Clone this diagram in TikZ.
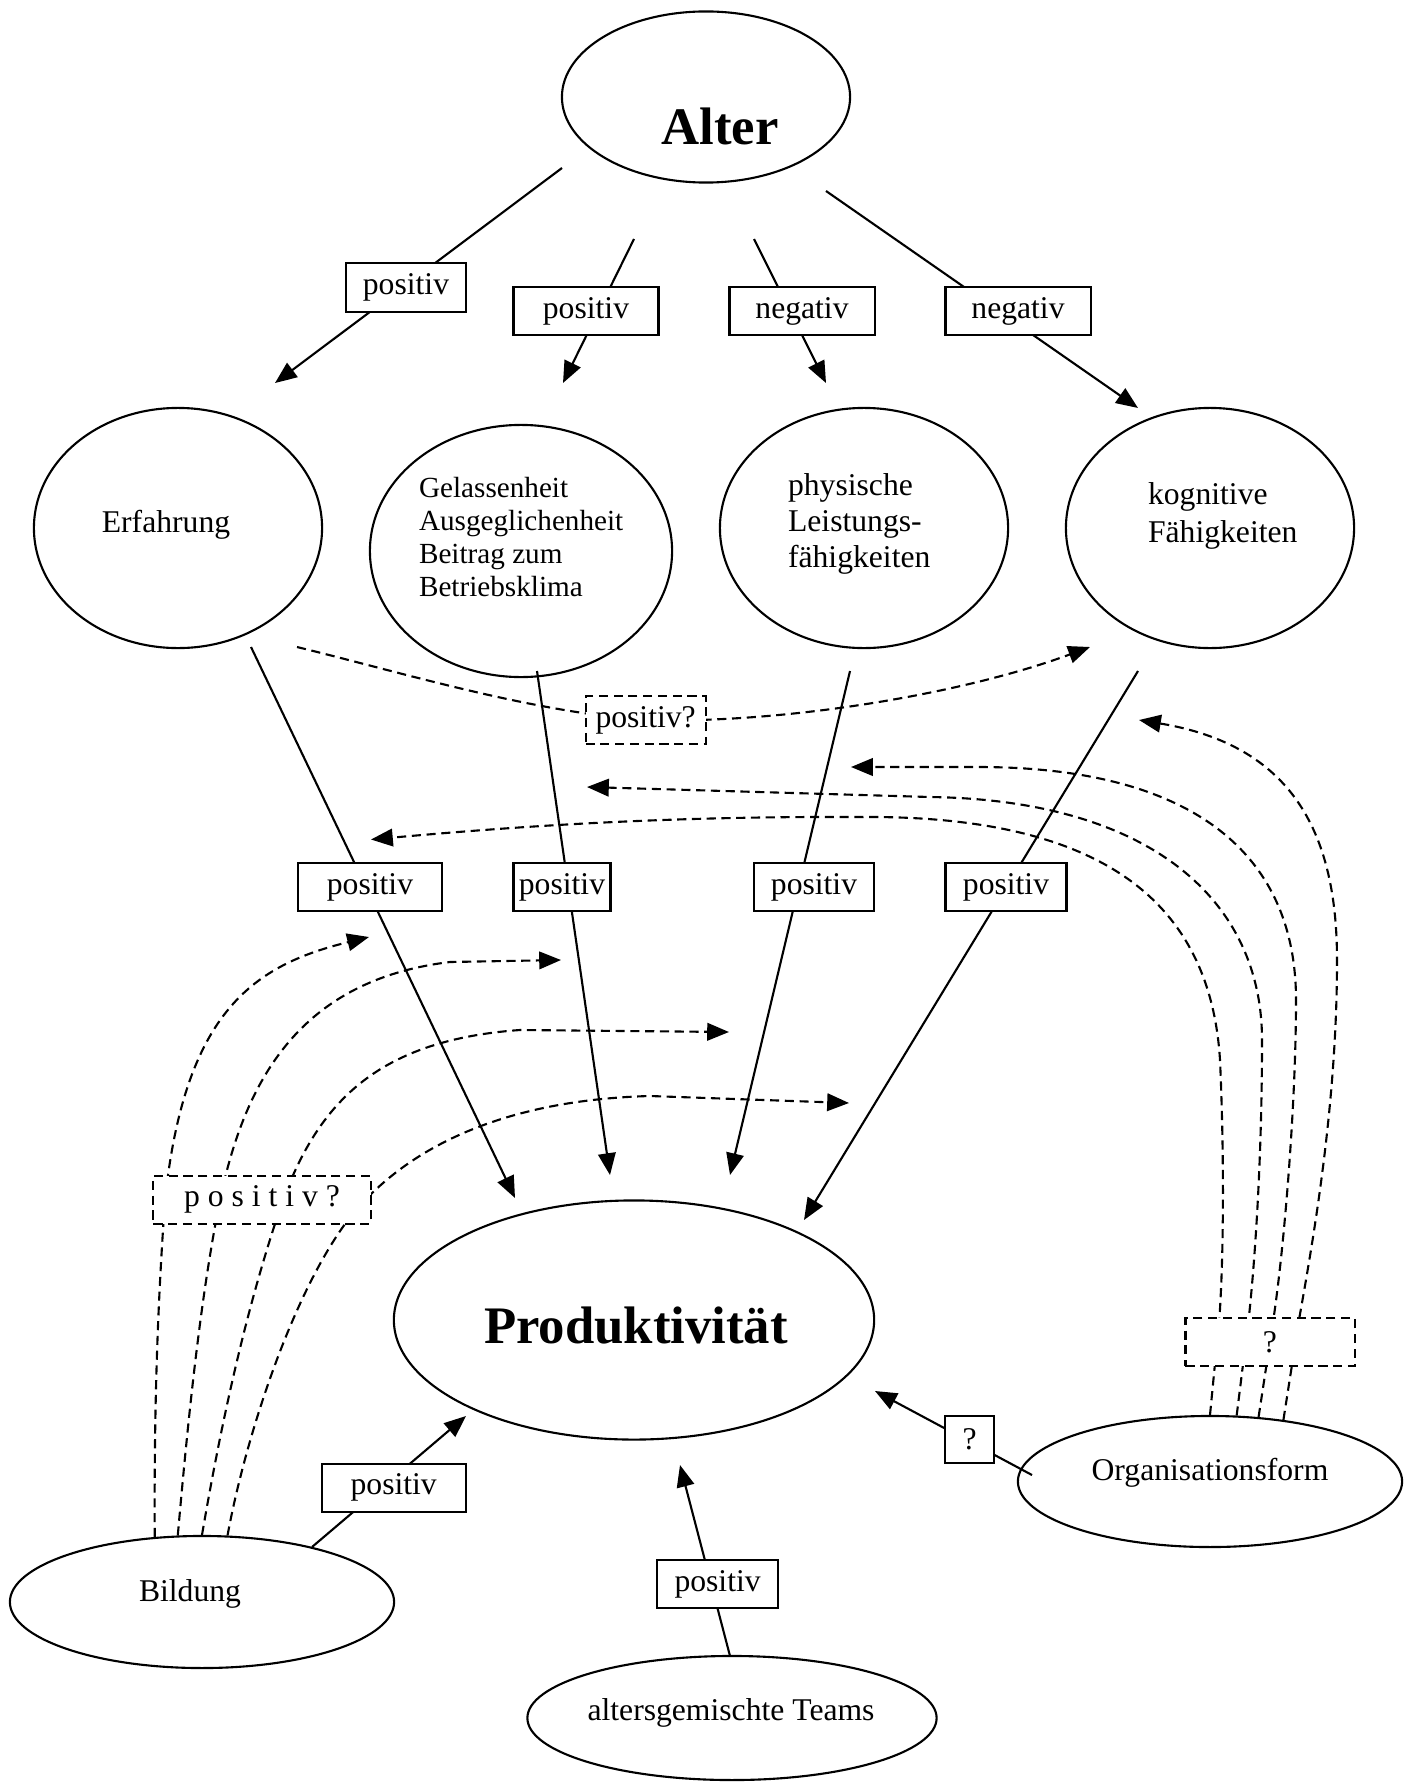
\documentclass[tikz,border=0pt]{standalone}
\usepackage{fontspec}
\setmainfont{Liberation Serif}
\usetikzlibrary{arrows.meta,shapes.geometric,backgrounds}

\begin{document}
\begin{tikzpicture}[x=0.01cm, y=-0.01cm,
  every node/.style={inner sep=0pt, line width=0.6pt},
  ell/.style={draw, ellipse},
  lbl/.style={draw, fill=white, minimum height=4.8mm, font=\fontsize{9}{10}\selectfont},
  qlbl/.style={lbl, dash pattern=on 2.6pt off 1.6pt},
  txt/.style={font=\fontsize{9}{10}\selectfont},
  big/.style={font=\fontsize{15}{18}\selectfont\bfseries},
  link/.style={line width=0.6pt, -{Triangle[length=6.2pt, width=5pt]}},
  guess/.style={link, dash pattern=on 2.6pt off 1.6pt}]
  \useasboundingbox (0,0) rectangle (1415,1782);

  % Ellipsen
  \node[ell, minimum width=2.88cm, minimum height=1.71cm] (alter) at (706,97) {};
  \node[ell, minimum width=2.88cm, minimum height=2.40cm] (erf) at (178,528) {};
  \node[ell, minimum width=3.02cm, minimum height=2.52cm] (gel) at (521,551) {};
  \node[ell, minimum width=2.88cm, minimum height=2.40cm] (phys) at (864,528) {};
  \node[ell, minimum width=2.88cm, minimum height=2.40cm] (kog) at (1210,528) {};
  \node[ell, minimum width=4.80cm, minimum height=2.39cm] (prod) at (634,1320) {};
  \node[ell, minimum width=3.84cm, minimum height=1.32cm] (bild) at (202,1602) {};
  \node[ell, minimum width=3.84cm, minimum height=1.31cm] (org) at (1210,1481.5) {};
  \node[ell, minimum width=4.09cm, minimum height=1.24cm] (team) at (732,1718) {};

  % Texte
  \node[big] (alter-t) at (720,126) {Alter};
  \node[txt] (erf-t) at (166,525) {Erfahrung};
  \node[anchor=west, align=left, font=\fontsize{8.3}{9.4}\selectfont] (gel-t) at (418,537)
    {Gelassenheit\\Ausgeglichenheit\\Beitrag zum\\Betriebsklima};
  \node[anchor=west, align=left, font=\fontsize{9}{10.2}\selectfont] (phys-t) at (787,524)
    {physische\\Leistungs-\\fähigkeiten};
  \node[anchor=west, align=left, font=\fontsize{9}{10.6}\selectfont] (kog-t) at (1147,516)
    {kognitive\\Fähigkeiten};
  \node[big] (prod-t) at (636,1326) {Produktivität};
  \node[txt] (bild-t) at (190,1594) {Bildung};
  \node[txt] (org-t) at (1210,1473) {Organisationsform};
  \node[txt] (team-t) at (731,1713) {altersgemischte Teams};

  % Wirkungen
  \node[lbl, minimum width=1.20cm, minimum height=4.9mm] (p1) at (406,287.5) {positiv};
  \node[lbl, minimum width=1.45cm] (p2) at (586,311.3) {positiv};
  \node[lbl, minimum width=1.45cm] (n1) at (802,311.3) {negativ};
  \node[lbl, minimum width=1.45cm] (n2) at (1018,311.3) {negativ};
  \node[qlbl, minimum width=1.20cm] (q1) at (645.6,720) {positiv?};
  \node[lbl, minimum width=1.44cm] (p5) at (370,887.4) {positiv};
  \node[lbl, minimum width=0.97cm] (p6) at (562,887.4) {positiv};
  \node[lbl, minimum width=1.20cm] (p7) at (814,887.4) {positiv};
  \node[lbl, minimum width=1.21cm] (p8) at (1006,887.4) {positiv};
  \node[qlbl, minimum width=2.17cm] (q2) at (262,1199.8) {p o s i t i v ?};
  \node[qlbl, minimum width=1.69cm] (q3) at (1270,1342) {?};
  \node[lbl, minimum width=4.9mm, minimum height=4.7mm] (b1) at (969.7,1439.5) {?};
  \node[lbl, minimum width=1.44cm] (pb) at (393.7,1487.8) {positiv};
  \node[lbl, minimum width=1.21cm] (pt) at (717.6,1584.2) {positiv};

  % freie Enden
  \coordinate (a1) at (562,168);  \coordinate (t1) at (275,383);
  \coordinate (a2) at (634,239);  \coordinate (t2) at (563,383);
  \coordinate (a3) at (754,239);  \coordinate (t3) at (826,383);
  \coordinate (a4) at (826,191);  \coordinate (t4) at (1138,408);
  \coordinate (e1) at (251,647);  \coordinate (t5) at (515,1198);
  \coordinate (g1) at (537,671);  \coordinate (t6) at (610,1175);
  \coordinate (h1) at (850,671);  \coordinate (t7) at (730,1175);
  \coordinate (k1) at (1138,671); \coordinate (t8) at (804,1220);
  \coordinate (bb) at (312,1547); \coordinate (tb) at (466,1416);
  \coordinate (tm) at (730,1656); \coordinate (tt) at (680,1465);
  \coordinate (o1) at (1032,1475); \coordinate (tq) at (875,1391);
  \coordinate (c1) at (297,647);  \coordinate (ck) at (1090,647);
  \coordinate (bt1) at (369,937); \coordinate (bt2) at (561,960);
  \coordinate (bt3) at (729,1032); \coordinate (bt4) at (849,1103);
  \coordinate (ot1) at (1139,720); \coordinate (ot2) at (851,767);
  \coordinate (ot3) at (587,787); \coordinate (ot4) at (371,839.5);

  \begin{scope}[on background layer]
    \draw[link] (a1) -- (t1);
    \draw[link] (a2) -- (t2);
    \draw[link] (a3) -- (t3);
    \draw[link] (a4) -- (t4);
    \draw[link] (e1) -- (t5);
    \draw[link] (g1) -- (t6);
    \draw[link] (h1) -- (t7);
    \draw[link] (k1) -- (t8);
    \draw[link] (bb) -- (tb);
    \draw[link] (tm) -- (tt);
    \draw[link] (o1) -- (tq);
    % Erfahrung -> kognitive Faehigkeiten
    \draw[guess] (c1) .. controls (400,672) and (530,712) .. (q1.center)
      .. controls (780,724) and (960,695) .. (ck);
    % Bildung
    \draw[guess] (bild.126.4) .. controls (154,1400) and (158,1300) .. (165,1200)
      .. controls (185,1010) and (255,965) .. (bt1);
    \draw[guess] (bild.110) .. controls (188,1420) and (200,1300) .. (220,1200)
      .. controls (245,1080) and (300,980) .. (450,962) -- (bt2);
    \draw[guess] (bild.90) .. controls (220,1430) and (245,1310) .. (283,1200)
      .. controls (320,1100) and (380,1040) .. (520,1030) -- (bt3);
    \draw[guess] (bild.69.3) .. controls (245,1440) and (290,1300) .. (345,1224)
      .. controls (400,1150) and (500,1100) .. (650,1096) -- (bt4);
    % Organisationsform
    \draw[guess] (org.40.5) -- (1299.3,1318) .. controls (1315,1230) and (1337,1100) .. (1337,960)
      .. controls (1337,830) and (1290,745) .. (ot1);
    \draw[guess] (org.53.3) -- (1273.6,1318) .. controls (1285,1240) and (1296,1100) .. (1296,1000)
      .. controls (1296,848) and (1185,767) .. (978,767) -- (ot2);
    \draw[guess] (org.68.5) -- (1248.8,1318) .. controls (1256,1250) and (1262,1150) .. (1262,1040)
      .. controls (1262,900) and (1150,800) .. (930,797) -- (ot3);
    \draw[guess] (org.90) -- (1219.4,1318) .. controls (1224,1250) and (1224,1150) .. (1220,1060)
      .. controls (1210,900) and (1100,815) .. (860,817) .. controls (650,816) and (500,828) .. (ot4);
  \end{scope}
\end{tikzpicture}
\end{document}
